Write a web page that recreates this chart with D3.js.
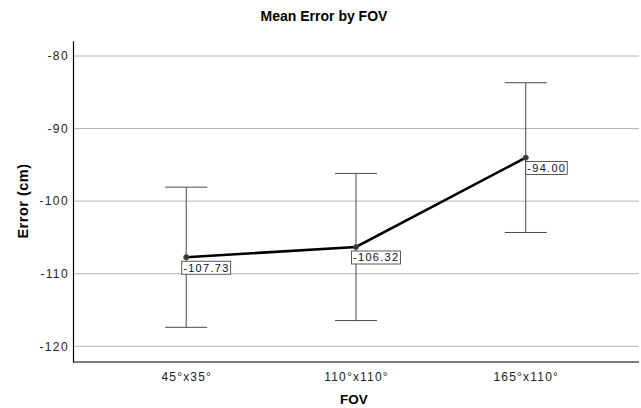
<!DOCTYPE html>
<html><head><meta charset="utf-8">
<script src="https://cdn.jsdelivr.net/npm/d3@7"></script>
<style>body{margin:0;background:#fff}svg{display:block;font-family:"Liberation Sans",Arial,sans-serif}</style>
</head><body><svg id="c" width="641" height="408"></svg>
<script>
const categories = ["45°x35°", "110°x110°", "165°x110°"];
const means = [-107.73, -106.32, -94.00];
const upper = [-98.07, -96.18, -83.68];
const lower = [-117.39, -116.46, -104.32];
const yTicks = [-80, -90, -100, -110, -120];
const chartTitle = "Mean Error by FOV";
const xTitle = "FOV";
const yTitle = "Error (cm)";

const svg = d3.select("#c");
const L = 73, R = 639, T = 40.7, B = 362;
const x = d3.scalePoint().domain(categories).range([L, R]).padding(0.667);
const y = d3.scaleLinear().domain([-122.17, -77.89]).range([B, T]);

// gridlines
svg.append("g").selectAll("line").data(yTicks).join("line")
  .attr("x1", L).attr("x2", R).attr("y1", d => y(d)).attr("y2", d => y(d))
  .attr("stroke", "#b4b4b4").attr("stroke-width", 1);

// y axis
const ya = svg.append("g").attr("transform", `translate(${L},0)`)
  .call(d3.axisLeft(y).tickValues(yTicks).tickSize(0).tickPadding(4).tickFormat(d => d));
ya.select(".domain").attr("stroke", "#000").attr("stroke-width", 1.2);
ya.selectAll("text").attr("font-size", 12).attr("fill", "#222").style("letter-spacing", "1.4px")
  .attr("font-family", "Liberation Sans, Arial, sans-serif");

// x axis
const xa = svg.append("g").attr("transform", `translate(0,${B})`)
  .call(d3.axisBottom(x).tickSize(0).tickPadding(10));
xa.select(".domain").attr("stroke", "#000").attr("stroke-width", 1.2).attr("d", `M${L},0H${R}`);
xa.selectAll("text").attr("font-size", 12).attr("fill", "#222").style("letter-spacing", "1.2px")
  .attr("font-family", "Liberation Sans, Arial, sans-serif");

// error bars
const eb = svg.append("g").attr("stroke", "#4a4a4a").attr("stroke-width", 1);
categories.forEach((c, i) => {
  const cx = x(c);
  eb.append("line").attr("x1", cx).attr("x2", cx).attr("y1", y(upper[i])).attr("y2", y(lower[i]));
  eb.append("line").attr("x1", cx - 21).attr("x2", cx + 21).attr("y1", y(upper[i])).attr("y2", y(upper[i]));
  eb.append("line").attr("x1", cx - 21).attr("x2", cx + 21).attr("y1", y(lower[i])).attr("y2", y(lower[i]));
});

// line
const line = d3.line().x((d, i) => x(categories[i])).y(d => y(d));
svg.append("path").datum(means).attr("d", line).attr("fill", "none")
  .attr("stroke", "#000").attr("stroke-width", 2.6);
svg.append("g").selectAll("circle").data(means).join("circle")
  .attr("cx", (d, i) => x(categories[i])).attr("cy", d => y(d)).attr("r", 2.6)
  .attr("fill", "#333").attr("stroke", "#555").attr("stroke-width", 0.8);

// value labels
const lg = svg.append("g");
means.forEach((v, i) => {
  const px = x(categories[i]) + (i === 2 ? 0 : -4.5);
  const py = y(v) + 4;
  const g = lg.append("g");
  const t = g.append("text").attr("x", px + 1.5).attr("y", py + 10.5)
    .attr("font-size", 11).attr("fill", "#111").style("letter-spacing", "1.3px")
    .text(v.toFixed(2));
  const w = t.node().getComputedTextLength();
  g.insert("rect", "text").attr("x", px).attr("y", py).attr("width", w + 2.5).attr("height", 13)
    .attr("fill", "#fff").attr("stroke", "#333").attr("stroke-width", 0.8);
});

// titles
svg.append("text").attr("x", 324).attr("y", 21).attr("text-anchor", "middle")
  .attr("font-size", 14).attr("font-weight", "bold").attr("fill", "#000").text(chartTitle);
svg.append("text").attr("x", 354).attr("y", 404).attr("text-anchor", "middle")
  .attr("font-size", 13.5).attr("font-weight", "bold").attr("fill", "#000").text(xTitle);
svg.append("text").attr("transform", "translate(28,201) rotate(-90)").attr("text-anchor", "middle")
  .attr("font-size", 14.5).attr("font-weight", "bold").attr("fill", "#000").style("letter-spacing", "0.5px").text(yTitle);
</script></body></html>
